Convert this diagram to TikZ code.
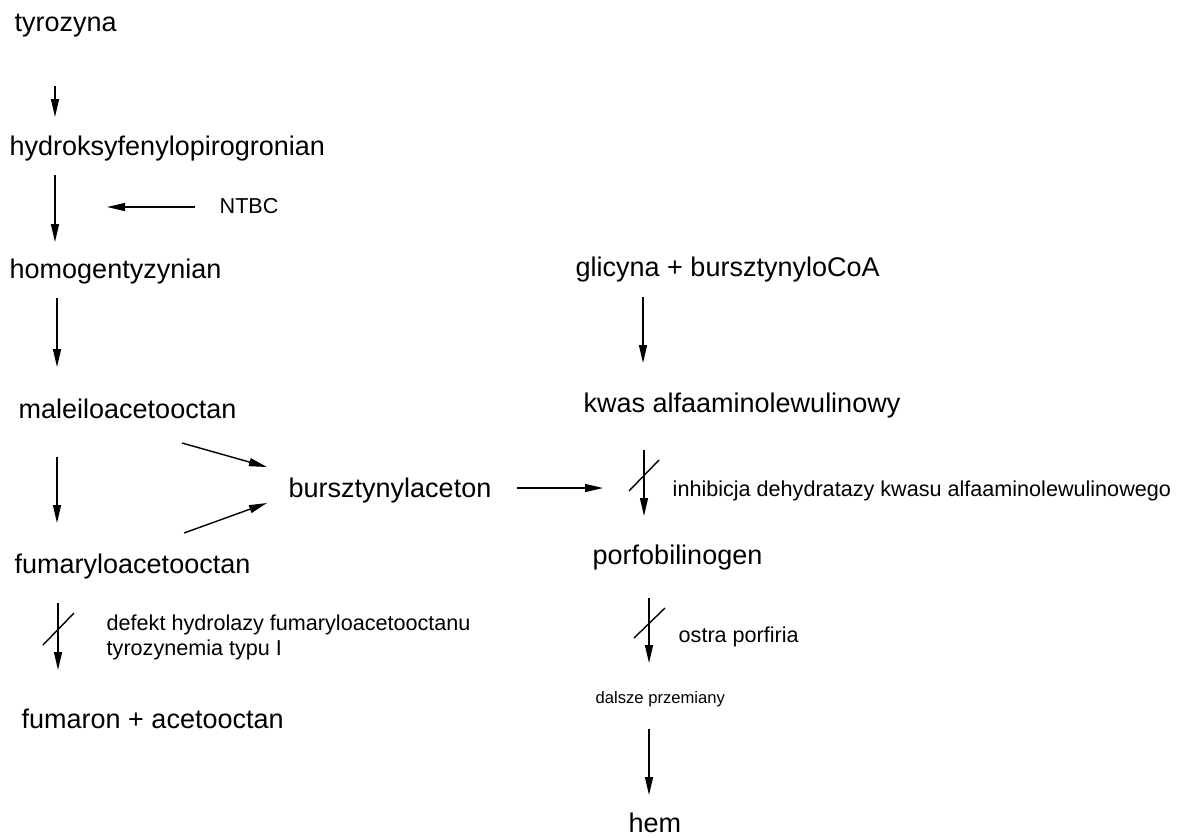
\documentclass[tikz,border=0pt]{standalone}
\usepackage{fontspec}
\setmainfont{Liberation Sans}
\usetikzlibrary{arrows.meta}

\begin{document}
\begin{tikzpicture}
	[x=0.5pt,y=-0.5pt,->,>={Triangle[length=9pt,width=4pt]},line width=0.7pt,
		chem/.style={anchor=base west,inner sep=0pt,font=\fontsize{13.5}{16}\selectfont},
		note/.style={anchor=base west,inner sep=0pt,align=left,font=\fontsize{10.8}{12.5}\selectfont},
		smallnote/.style={anchor=base west,inner sep=0pt,font=\fontsize{8.3}{10}\selectfont},
		block/.style={-}]

	\useasboundingbox (0,0) rectangle (1181,837);

	% tyrozyna pathway
	\node[chem] (tyr) at (14,31) {tyrozyna};
	\node[chem] (hyd) at (9,155) {hydroksyfenylopirogronian};
	\node[note] (ntbc) at (219,213) {NTBC};
	\node[chem] (hom) at (9,278) {homogentyzynian};
	\node[chem] (mal) at (18,418) {maleiloacetooctan};
	\node[chem] (fum) at (14,573) {fumaryloacetooctan};
	\node[note] (def) at (106,655) {defekt hydrolazy fumaryloacetooctanu\\tyrozynemia typu I};
	\node[chem] (fa) at (21,728) {fumaron + acetooctan};
	\node[chem] (bur) at (288,497) {bursztynylaceton};

	% hem pathway
	\node[chem] (gli) at (575,276) {glicyna + bursztynyloCoA};
	\node[chem] (kwas) at (583,412) {kwas alfaaminolewulinowy};
	\node[note] (inh) at (672,496) {inhibicja dehydratazy kwasu alfaaminolewulinowego};
	\node[chem] (porf) at (592,564) {porfobilinogen};
	\node[note] (ostra) at (678,642) {ostra porfiria};
	\node[smallnote] (dal) at (595,703) {dalsze przemiany};
	\node[chem] (hem) at (628,832) {hem};

	% arrow ends
	\coordinate (tyr-out) at (55,86);   \coordinate (hyd-in) at (55,117);
	\coordinate (hyd-out) at (55,175);  \coordinate (hom-in) at (55,242);
	\coordinate (ntbc-out) at (195,207); \coordinate (ntbc-in) at (107,207);
	\coordinate (hom-out) at (57,298);  \coordinate (mal-in) at (57,367);
	\coordinate (mal-out) at (57,457);  \coordinate (fum-in) at (57,523);
	\coordinate (mal-bur) at (182,443); \coordinate (bur-in1) at (267,467);
	\coordinate (fum-bur) at (184,533); \coordinate (bur-in2) at (267,503);
	\coordinate (fum-out) at (58,603);  \coordinate (fa-in) at (58,670);
	\coordinate (bur-out) at (517,488); \coordinate (inh-in) at (603,488);
	\coordinate (gli-out) at (643,297); \coordinate (kwas-in) at (643,363);
	\coordinate (kwas-out) at (644,450); \coordinate (porf-in) at (644,516);
	\coordinate (porf-out) at (649,598); \coordinate (dal-in) at (649,663);
	\coordinate (dal-out) at (649,729); \coordinate (hem-in) at (649,795);

	\path
	(tyr-out) edge (hyd-in)
	(hyd-out) edge (hom-in)
	(ntbc-out) edge (ntbc-in)
	(hom-out) edge (mal-in)
	(mal-out) edge (fum-in)
	(mal-bur) edge (bur-in1)
	(fum-bur) edge (bur-in2)
	(fum-out) edge (fa-in)
	(bur-out) edge (inh-in)
	(gli-out) edge (kwas-in)
	(kwas-out) edge (porf-in)
	(porf-out) edge (dal-in)
	(dal-out) edge (hem-in)
	;

	% blocked steps
	\draw[block] (43,645) -- (74,613);
	\draw[block] (629,491) -- (659,460);
	\draw[block] (634,638) -- (665,608);
\end{tikzpicture}
\end{document}
